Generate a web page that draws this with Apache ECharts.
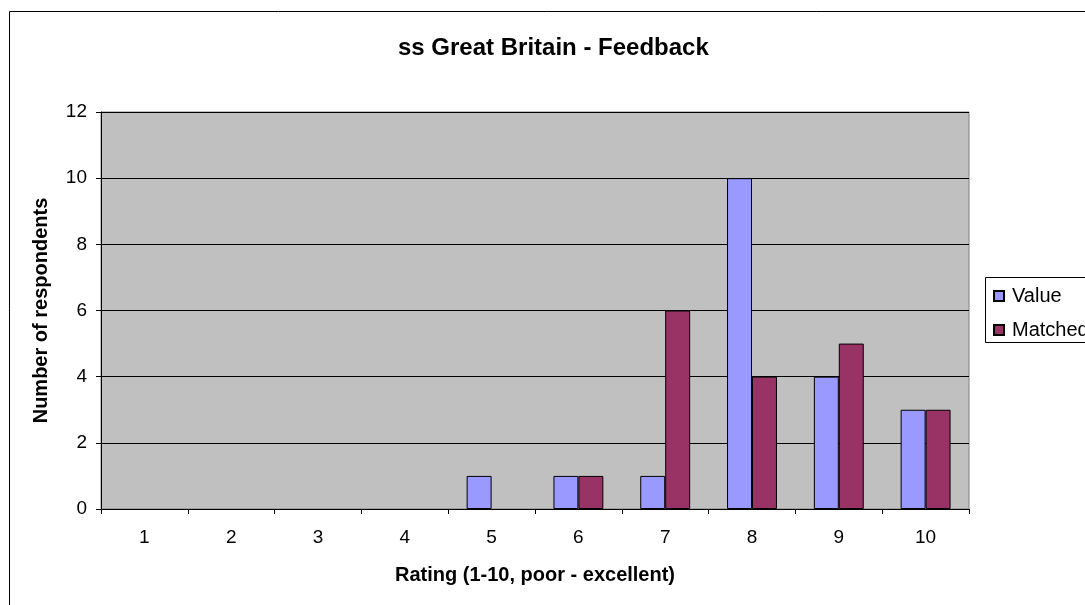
<!DOCTYPE html>
<html>
<head>
<meta charset="utf-8">
<script src="https://cdn.jsdelivr.net/npm/echarts@6/dist/echarts.min.js"></script>
<style>
    html, body { margin: 0; padding: 0; background: #fff; }
    #chart { width: 1085px; height: 605px; }
</style>
</head>
<body>
<div id="chart"></div>
<script>
// 图表数据
const categories = ['1', '2', '3', '4', '5', '6', '7', '8', '9', '10'];
const valueData = [0, 0, 0, 0, 1, 1, 1, 10, 4, 3];
const matchedData = [0, 0, 0, 0, 0, 1, 6, 4, 5, 3];
const seriesNames = ['Value', 'Matched'];

// 0值不画柱子 (Excel里看不到)
const hideZero = arr => arr.map(v => (v === 0 ? '-' : v));

const myChart = echarts.init(document.getElementById('chart'));
const font = 'Liberation Sans, Arial, sans-serif';

const option = {
    animation: false,
    textStyle: { fontFamily: font },
    title: {
        text: 'ss Great Britain - Feedback',
        left: 393,
        top: 31,
        textStyle: { fontSize: 24, fontWeight: 'bold', color: '#000', fontFamily: font }
    },
    // 外框和图例框 (超出画布右侧)
    graphic: [
        {
            type: 'rect', z: -1,
            shape: { x: 9.5, y: 11.5, width: 1200, height: 700 },
            style: { fill: '#fff', stroke: '#000', lineWidth: 1 }
        },
        {
            type: 'rect', z: 0,
            shape: { x: 985.5, y: 277.5, width: 200, height: 65 },
            style: { fill: '#fff', stroke: '#000', lineWidth: 1 }
        }
    ],
    legend: {
        data: seriesNames,
        orient: 'vertical',
        left: 988,
        top: 281,
        itemWidth: 10,
        itemHeight: 10,
        itemGap: 14,
        icon: 'rect',
        textStyle: { fontSize: 20, color: '#000', fontFamily: font, padding: [0, 0, 0, 3] }
    },
    grid: {
        left: 101,
        top: 112,
        right: 116,
        bottom: 96,
        show: true,
        backgroundColor: '#C0C0C0',
        borderColor: '#808080',
        borderWidth: 1
    },
    xAxis: {
        type: 'category',
        data: categories,
        name: 'Rating (1-10, poor - excellent)',
        nameLocation: 'middle',
        nameGap: 56,
        nameTextStyle: { fontSize: 20, fontWeight: 'bold', color: '#000', fontFamily: font },
        axisLine: { lineStyle: { color: '#000', width: 1 } },
        axisTick: { show: true, length: 5, lineStyle: { color: '#000' } },
        axisLabel: { fontSize: 19, color: '#000', margin: 19, fontFamily: font }
    },
    yAxis: {
        type: 'value',
        min: 0,
        max: 12,
        interval: 2,
        name: 'Number of respondents',
        nameLocation: 'middle',
        nameGap: 50,
        nameTextStyle: { fontSize: 20, fontWeight: 'bold', color: '#000', fontFamily: font },
        axisLine: { show: true, lineStyle: { color: '#000', width: 1 } },
        axisTick: { show: true, length: 5, lineStyle: { color: '#000' } },
        axisLabel: { fontSize: 19, color: '#000', margin: 14, fontFamily: font },
        splitLine: { lineStyle: { color: '#000', width: 1 } }
    },
    series: [
        {
            name: seriesNames[0],
            type: 'bar',
            data: hideZero(valueData),
            barGap: '0%',
            barCategoryGap: '42.5%',
            itemStyle: { color: '#9999FF', borderColor: '#000', borderWidth: 1 }
        },
        {
            name: seriesNames[1],
            type: 'bar',
            data: hideZero(matchedData),
            itemStyle: { color: '#993366', borderColor: '#000', borderWidth: 1 }
        }
    ]
};

myChart.setOption(option);
</script>
</body>
</html>
